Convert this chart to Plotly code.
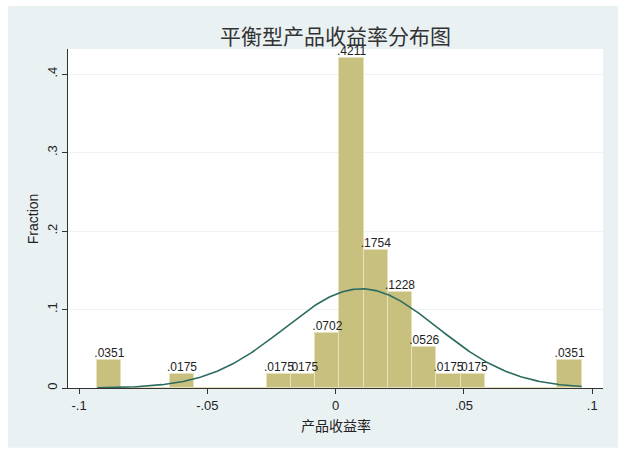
import numpy as np
import plotly.graph_objects as go

# 平衡型产品收益率 histogram (20 bins, fraction scale)
bin_start = -0.0929
bin_width = 0.00944
fractions = [0.0351, 0, 0, 0.0175, 0, 0, 0, 0.0175, 0.0175, 0.0702,
             0.4211, 0.1754, 0.1228, 0.0526, 0.0175, 0.0175, 0, 0, 0, 0.0351]

# normal overlay (mean / sd of the returns)
norm_mean = 0.0100
norm_sd = 0.0298

x_ticks = [-0.1, -0.05, 0, 0.05, 0.1]
x_tick_text = ["-.1", "-.05", "0", ".05", ".1"]
y_ticks = [0, 0.1, 0.2, 0.3, 0.4]
y_tick_text = ["0", ".1", ".2", ".3", ".4"]

FONT = "Liberation Sans, Arial, Noto Sans CJK SC"
CJK = "Noto Sans CJK SC, Liberation Sans"
PANEL = "#eaf1f3"

centers = [bin_start + bin_width * (i + 0.5) for i in range(len(fractions))]
labels = [("%.4f" % v).lstrip("0") if v > 0 else "" for v in fractions]

xs = np.linspace(bin_start, bin_start + bin_width * len(fractions), 300)
ys = bin_width / (norm_sd * np.sqrt(2 * np.pi)) * np.exp(-0.5 * ((xs - norm_mean) / norm_sd) ** 2)

fig = go.Figure()
fig.add_trace(go.Bar(
    x=centers, y=fractions, width=bin_width,
    marker=dict(color="#c8c07e", line=dict(color="#e6e1b8", width=1)),
    showlegend=False, hoverinfo="x+y",
))
fig.add_trace(go.Scatter(
    x=[c for c, v in zip(centers, fractions) if v > 0],
    y=[v for v in fractions if v > 0],
    text=[t for t in labels if t],
    mode="text", textposition="top center",
    textfont=dict(family=FONT, size=12, color="#222222"),
    cliponaxis=False, showlegend=False, hoverinfo="skip",
))
fig.add_trace(go.Scatter(
    x=xs, y=ys, mode="lines",
    line=dict(color="#2c6c60", width=1.6),
    showlegend=False, hoverinfo="skip",
))

# white frame around the light panel
frame = [
    dict(x0=-0.2, x1=1.2, y0=1.127, y1=1.3),
    dict(x0=-0.2, x1=1.2, y0=-0.3, y1=-0.176),
    dict(x0=-0.2, x1=-0.112, y0=-0.3, y1=1.3),
    dict(x0=1.028, x1=1.2, y0=-0.3, y1=1.3),
]
shapes = [dict(type="rect", xref="paper", yref="paper", fillcolor="white",
               line=dict(width=0), layer="above", **f) for f in frame]

fig.update_layout(
    width=624, height=458,
    margin=dict(l=68, r=21, t=49, b=70),
    paper_bgcolor=PANEL,
    plot_bgcolor="white",
    bargap=0,
    font=dict(family=FONT, color="#222222"),
    title=dict(text="平衡型产品收益率分布图", x=0.5, xref="paper", y=1 - 37 / 458, yref="container",
               xanchor="center", yanchor="middle",
               font=dict(family=CJK, size=21, color="#333333")),
    shapes=shapes,
    annotations=[
        dict(text="产品收益率", xref="paper", yref="paper", x=0.5, y=-0.108,
             xanchor="center", yanchor="middle", showarrow=False,
             font=dict(family=CJK, size=14, color="#222222")),
        dict(text="Fraction", xref="paper", yref="paper", x=-0.066, y=0.5,
             xanchor="center", yanchor="middle", textangle=-90, showarrow=False,
             font=dict(family=FONT, size=14, color="#222222")),
    ],
)
fig.update_xaxes(
    range=[-0.1043, 0.1042], tickvals=x_ticks, ticktext=x_tick_text,
    showgrid=False, zeroline=False, showline=True, linecolor="#333333", linewidth=1,
    ticks="outside", ticklen=5, tickcolor="#333333",
    tickfont=dict(family=FONT, size=13, color="#222222"),
)
fig.update_yaxes(
    range=[0, 0.432], tickvals=y_ticks, ticktext=y_tick_text, tickangle=-90,
    showgrid=True, gridcolor="#edf2f4", gridwidth=1, zeroline=False,
    showline=True, linecolor="#333333", linewidth=1,
    ticks="outside", ticklen=5, tickcolor="#333333",
    tickfont=dict(family=FONT, size=13, color="#222222"),
)

fig.write_html("out.html", config={"displayModeBar": False},
               post_script="document.body.style.margin='0';")
